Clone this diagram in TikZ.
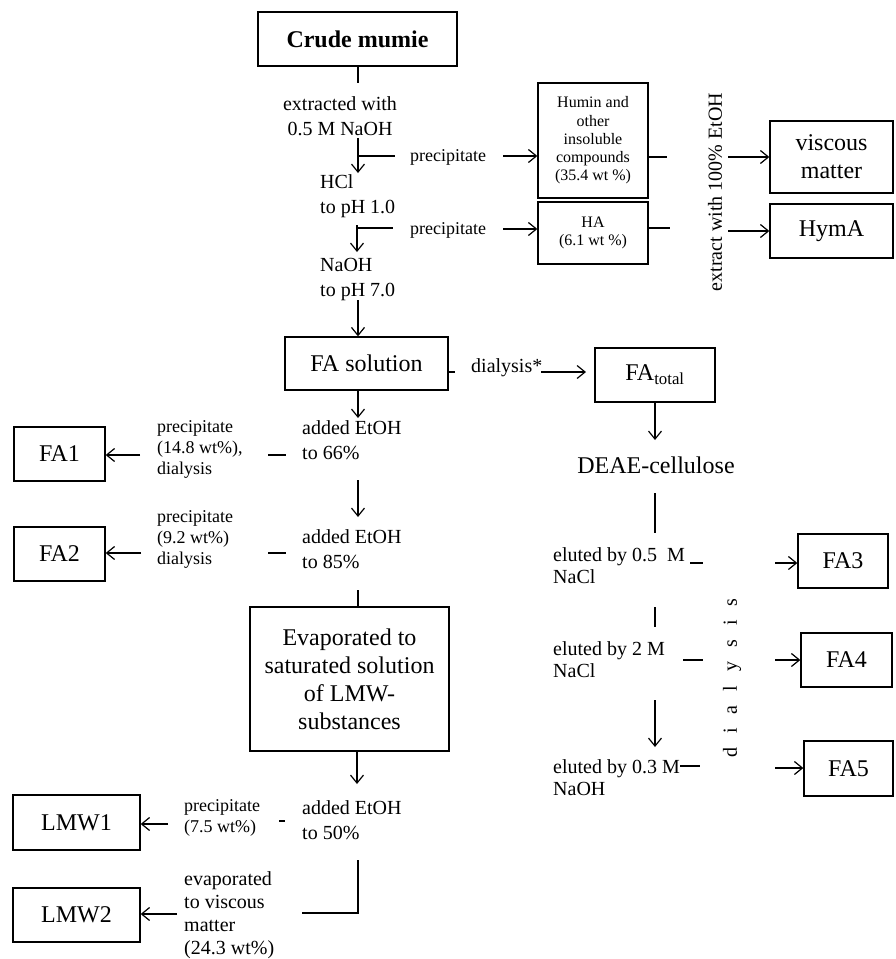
\documentclass[tikz,border=0pt]{standalone}
\usepackage{fontspec}
\setmainfont{Liberation Serif}
\usepackage{tikz}
\usetikzlibrary{arrows.meta}
\newcommand{\fsbig}{\fontsize{24}{28}\selectfont}
\newcommand{\fsmid}{\fontsize{20}{25}\selectfont}
\newcommand{\fssmall}{\fontsize{18}{21}\selectfont}
\newcommand{\fstiny}{\fontsize{16}{18.3}\selectfont}
\newcommand{\lgap}{\hspace{14pt}}
\tikzset{box/.style={rectangle, draw, line width=1.3pt, inner sep=0pt, align=center}}
\tikzset{lbl/.style={inner sep=0pt, align=left, anchor=west, font=\fsmid}}
\tikzset{conn/.style={line width=1.2pt}}
\tikzset{arr/.style={conn, -{Straight Barb[length=8pt,width=13pt]}}}

\begin{document}
\begin{tikzpicture}[x=1pt,y=-1pt]
    \useasboundingbox (0,0) rectangle (896,959);
    \foreach \lab/\x/\y/\w/\h/\ft/\tx in {
      crude/357.5/39/199/54/{\fsbig\bfseries}/{Crude mumie},
      humin/593/140.5/110/115/\fstiny/{Humin and\\other\\insoluble\\compounds\\(35.4 wt \%)},
      ha/593/233/110/62/\fstiny/{HA\\(6.1 wt \%)},
      visc/831.5/157/123/72/\fsbig/{viscous\\matter},
      hyma/831.5/231/123/54/\fsbig/{HymA},
      fasol/366.5/363.5/163/53/\fsbig/{FA solution},
      fatot/655/375/120/54/\fsbig/{FA\textsubscript{total}},
      fa1/59.5/454/91/54/\fsbig/{FA1},
      fa2/59.5/554/91/54/\fsbig/{FA2},
      evap/349.5/679/199/144/\fsbig/{Evaporated to\\saturated solution\\of LMW-\\substances},
      lmw1/76.5/822.5/127/55/\fsbig/{LMW1},
      lmw2/76.5/915/127/54/\fsbig/{LMW2},
      fa3/843/561/90/54/\fsbig/{FA3},
      fa4/846.5/660/91/54/\fsbig/{FA4},
      fa5/848.5/768.5/89/55/\fsbig/{FA5}%
    } {
      \node[box, font=\ft, minimum width=\w, minimum height=\h] (\lab) at (\x, \y) {\tx};
    }
    % labels
    \node[lbl, anchor=center, align=center] (ext) at (340,116) {extracted with\\0.5 M NaOH};
    \node[lbl] (hcl) at (320,196.5) {HCl\\to pH 1.0};
    \node[lbl] (naoh) at (320,279.5) {NaOH\\to pH 7.0};
    \node[lbl, anchor=center, font=\fssmall] (prec1) at (448,157) {precipitate};
    \node[lbl, anchor=center, font=\fssmall] (prec2) at (448,230) {precipitate};
    \node[lbl, anchor=center, rotate=90] (ext100) at (715,192) {extract with 100\% EtOH};
    \node[lbl] (dial) at (471,368) {dialysis*};
    \node[lbl, anchor=center, font=\fsbig] (deae) at (656,465) {DEAE-cellulose};
    \node[lbl] (add66) at (302,440.5) {added EtOH\\to 66\%};
    \node[lbl, font=\fssmall] (pfa1) at (157,449) {precipitate\\(14.8 wt\%),\\dialysis};
    \node[lbl] (add85) at (302,549.5) {added EtOH\\to 85\%};
    \node[lbl, font=\fssmall] (pfa2) at (157,539) {precipitate\\(9.2 wt\%)\\dialysis};
    \node[lbl] (add50) at (302,820.5) {added EtOH\\to 50\%};
    \node[lbl, font=\fssmall] (plmw1) at (184,817.5) {precipitate\\(7.5 wt\%)};
    \node[lbl, font=\fontsize{20}{23}\selectfont] (plmw2) at (184,915) {evaporated\\to viscous\\matter\\(24.3 wt\%)};
    \node[lbl, font=\fontsize{20}{22}\selectfont] (el1) at (553,566) {eluted by 0.5~~M\\NaCl};
    \node[lbl, font=\fontsize{20}{22}\selectfont] (el2) at (553,660) {eluted by 2 M\\NaCl};
    \node[lbl, font=\fontsize{20}{22}\selectfont] (el3) at (553,778) {eluted by 0.3 M\\NaOH};
    \node[lbl, anchor=center, rotate=90] (dialv) at (732,678) {d\lgap i\lgap a\lgap l\lgap y\lgap s\lgap i\lgap s};
    % free ends
    \foreach \n/\x/\y in {
      c0/358/83, b1/358/138, b2/358/173, b3/358/156, b4/395/156, c1/503/156,
      d2/667/157, e1/728/157, f1/357/225, f2/357/252, f3/358/228, f4/393/228,
      g1/503/229, h2/670/228, i1/728/231, j1/358/300, k1/455/372, k3/541/372,
      k2/586/372, l1/655/440, m1/655/493, m2/655/533, n1/690/563, n2/703/563,
      n3/775/563, o1/655/607, o2/655/627, p1/683/660, p2/703/660, p3/775/660,
      q1/655/700, q2/655/747, r1/680/766, r2/700/766, r3/775/768, s1/358/418,
      t1/268/455, t2/286/455, u1/140/455, v1/358/480, v2/358/517, w1/268/553,
      w2/286/553, x1/141/553, y1/358/590, z1/357/784, aa1/279/821, aa2/285/821,
      bb1/168/824, cc1/358/860, cc3/302/913, dd1/177/914%
    } {
      \coordinate (\n) at (\x, \y);
    }
    % top part
    \draw[conn] (crude.south -| c0) -- (c0);
    \draw[arr] (b1) -- (b2);
    \draw[conn] (b3) -- (b4);
    \draw[arr] (c1) -- (humin.west |- c1);
    \draw[conn] (humin.east |- d2) -- (d2);
    \draw[arr] (e1) -- (visc.west);
    \draw[arr] (f1) -- (f2);
    \draw[conn] (f3) -- (f4);
    \draw[arr] (g1) -- (ha.west |- g1);
    \draw[conn] (ha.east |- h2) -- (h2);
    \draw[arr] (i1) -- (hyma.west);
    \draw[arr] (j1) -- (fasol.north -| j1);
    % right branch
    \draw[conn] (fasol.east |- k1) -- (k1);
    \draw[arr] (k3) -- (k2);
    \draw[arr] (fatot.south) -- (l1);
    \draw[conn] (m1) -- (m2);
    \draw[conn] (n1) -- (n2);
    \draw[arr] (n3) -- (fa3.west |- n3);
    \draw[conn] (o1) -- (o2);
    \draw[conn] (p1) -- (p2);
    \draw[arr] (p3) -- (fa4.west);
    \draw[arr] (q1) -- (q2);
    \draw[conn] (r1) -- (r2);
    \draw[arr] (r3) -- (fa5.west |- r3);
    % left branch
    \draw[arr] (fasol.south -| s1) -- (s1);
    \draw[conn] (t1) -- (t2);
    \draw[arr] (u1) -- (fa1.east |- u1);
    \draw[arr] (v1) -- (v2);
    \draw[conn] (w1) -- (w2);
    \draw[arr] (x1) -- (fa2.east |- x1);
    \draw[conn] (y1) -- (evap.north -| y1);
    \draw[arr] (evap.south -| z1) -- (z1);
    \draw[conn] (aa1) -- (aa2);
    \draw[arr] (bb1) -- (lmw1.east |- bb1);
    \draw[conn] (cc1) |- (cc3);
    \draw[arr] (dd1) -- (lmw2.east |- dd1);
\end{tikzpicture}
\end{document}
